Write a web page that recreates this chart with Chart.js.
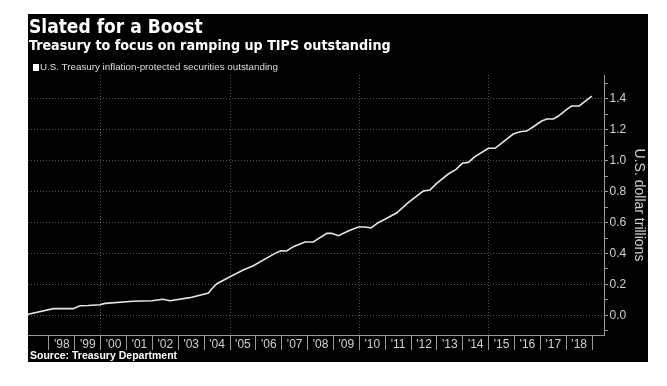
<!DOCTYPE html>
<html>
<head>
<meta charset="utf-8">
<script src="https://cdn.jsdelivr.net/npm/chart.js@4.4.1/dist/chart.umd.min.js"></script>
<style>
  html, body { margin: 0; padding: 0; background: #fff; }
  body { width: 667px; height: 386px; position: relative; overflow: hidden; font-family: "Liberation Sans", Arial, sans-serif; }
  #panel { position: absolute; left: 28px; top: 14px; width: 620px; height: 348px; background: #000; }
  #chart { position: absolute; left: 0; top: 0; }
  .txt { position: absolute; white-space: nowrap; }
  #title { left: 1px; top: 2.9px; font-family: "DejaVu Sans Condensed", "DejaVu Sans", sans-serif; font-stretch: condensed; font-size: 19px; line-height: 19px; font-weight: bold; color: #fff; }
  #subtitle { left: 1px; top: 23.5px; font-family: "DejaVu Sans Condensed", "DejaVu Sans", sans-serif; font-stretch: condensed; font-size: 14.2px; line-height: 14.2px; font-weight: bold; color: #fff; }
  #legend { left: 12px; top: 48.4px; font-size: 9.8px; line-height: 9.8px; color: #ddd; }
  #legend i { position: absolute; left: -7px; top: 1.2px; width: 6px; height: 7px; background: #fff; }
  #source { left: 2px; top: 336.4px; font-size: 10.5px; line-height: 10.5px; font-weight: bold; color: #fff; }
</style>
</head>
<body>
<div id="panel">
  <canvas id="chart" width="620" height="348"></canvas>
  <div class="txt" id="title">Slated for a Boost</div>
  <div class="txt" id="subtitle">Treasury to focus on ramping up TIPS outstanding</div>
  <div class="txt" id="legend"><i></i>U.S. Treasury inflation-protected securities outstanding</div>
  <div class="txt" id="source">Source: Treasury Department</div>
</div>
<script>
// TIPS outstanding, US$ trillions, dates as decimal years
const dates = [1997.19, 1998.17, 1998.94, 1999.20, 1999.51, 1999.97, 2000.17, 2001.25, 2001.98, 2002.41,
  2002.68, 2003.45, 2004.17, 2004.29, 2004.49, 2004.93, 2005.51, 2005.90, 2006.74, 2006.97,
  2007.19, 2007.45, 2007.90, 2008.22, 2008.74, 2008.93, 2009.19, 2009.57, 2009.96, 2010.22,
  2010.45, 2010.73, 2010.99, 2011.45, 2011.89, 2012.47, 2012.73, 2012.99, 2013.44, 2013.74,
  2013.98, 2014.21, 2014.47, 2014.99, 2015.25, 2015.95, 2016.21, 2016.47, 2016.73, 2017.05,
  2017.25, 2017.50, 2017.70, 2018.02, 2018.21, 2018.50, 2018.99];
const tips = [0.008, 0.044, 0.044, 0.063, 0.064, 0.069, 0.078, 0.092, 0.095, 0.105,
  0.095, 0.115, 0.145, 0.171, 0.205, 0.244, 0.294, 0.321, 0.401, 0.418,
  0.416, 0.444, 0.474, 0.474, 0.530, 0.530, 0.515, 0.545, 0.571, 0.571,
  0.565, 0.599, 0.621, 0.663, 0.728, 0.803, 0.810, 0.853, 0.913, 0.943,
  0.982, 0.988, 1.025, 1.079, 1.079, 1.171, 1.186, 1.190, 1.218, 1.255,
  1.268, 1.268, 1.287, 1.330, 1.352, 1.352, 1.416];

const firstYear = 1998;
const yearLabels = ["'98", "'99", "'00", "'01", "'02", "'03", "'04", "'05", "'06", "'07", "'08",
  "'09", "'10", "'11", "'12", "'13", "'14", "'15", "'16", "'17", "'18"];
const gridYears = [2000, 2005, 2010, 2015];
const yMajorTicks = [0.0, 0.2, 0.4, 0.6, 0.8, 1.0, 1.2, 1.4];
const yMinorTicks = [-0.1, 0.1, 0.3, 0.5, 0.7, 0.9, 1.1, 1.3, 1.5];

const labelColor = '#d0d0d0';
const axisColor = '#9a9a9a';
const gridColor = 'rgba(255,255,255,0.32)';

const points = dates.map((d, i) => ({ x: d, y: tips[i] }));

new Chart(document.getElementById('chart'), {
  type: 'line',
  data: {
    datasets: [{
      label: 'U.S. Treasury inflation-protected securities outstanding',
      data: points,
      borderColor: '#e6e6e6',
      borderWidth: 1.6,
      pointRadius: 0,
      tension: 0
    }]
  },
  options: {
    responsive: false,
    animation: false,
    layout: { padding: { top: 61, left: 0, right: 0, bottom: 0 } },
    plugins: {
      legend: { display: false },
      tooltip: { enabled: false }
    },
    scales: {
      x: {
        type: 'linear',
        min: 1997.19,
        max: 2019.46,
        afterBuildTicks: (scale) => {
          const t = [];
          for (let i = 0; i <= yearLabels.length; i++) {
            t.push({ value: firstYear + i });
            if (i < yearLabels.length) t.push({ value: firstYear + i + 0.5 });
          }
          scale.ticks = t;
        },
        afterFit: (scale) => { scale.height = 27; },
        border: { display: true, color: axisColor, width: 1, dash: [1, 2] },
        grid: {
          drawOnChartArea: true,
          tickLength: 15,
          color: (ctx) => gridYears.includes(ctx.tick && ctx.tick.value) ? gridColor : 'transparent',
          tickColor: (ctx) => (ctx.tick && Number.isInteger(ctx.tick.value)) ? axisColor : 'transparent'
        },
        ticks: {
          autoSkip: false,
          maxRotation: 0,
          padding: -13,
          color: labelColor,
          font: { family: 'Liberation Sans', size: 12 },
          callback: (v) => Number.isInteger(v) ? '' : yearLabels[Math.floor(v) - firstYear]
        }
      },
      y: {
        position: 'right',
        min: -0.126,
        max: 1.552,
        afterBuildTicks: (scale) => {
          scale.ticks = yMajorTicks.concat(yMinorTicks).sort((a, b) => a - b).map(v => ({ value: v }));
        },
        afterFit: (scale) => { scale.width = 44; },
        border: { display: true, color: axisColor, width: 1, dash: [1, 2] },
        grid: {
          tickLength: 4,
          color: (ctx) => (ctx.tick && yMajorTicks.some(m => Math.abs(m - ctx.tick.value) < 1e-6)) ? gridColor : 'transparent',
          tickColor: axisColor
        },
        ticks: {
          autoSkip: false,
          padding: 1.5,
          color: labelColor,
          font: { family: 'Liberation Sans', size: 12 },
          callback: (v) => yMajorTicks.some(m => Math.abs(m - v) < 1e-6) ? v.toFixed(1) : ''
        },
        title: {
          display: true,
          text: 'U.S. dollar trillions',
          color: labelColor,
          font: { family: 'Liberation Sans', size: 14 },
          padding: { top: 1, bottom: 0 }
        }
      }
    }
  }
});
</script>
</body>
</html>
